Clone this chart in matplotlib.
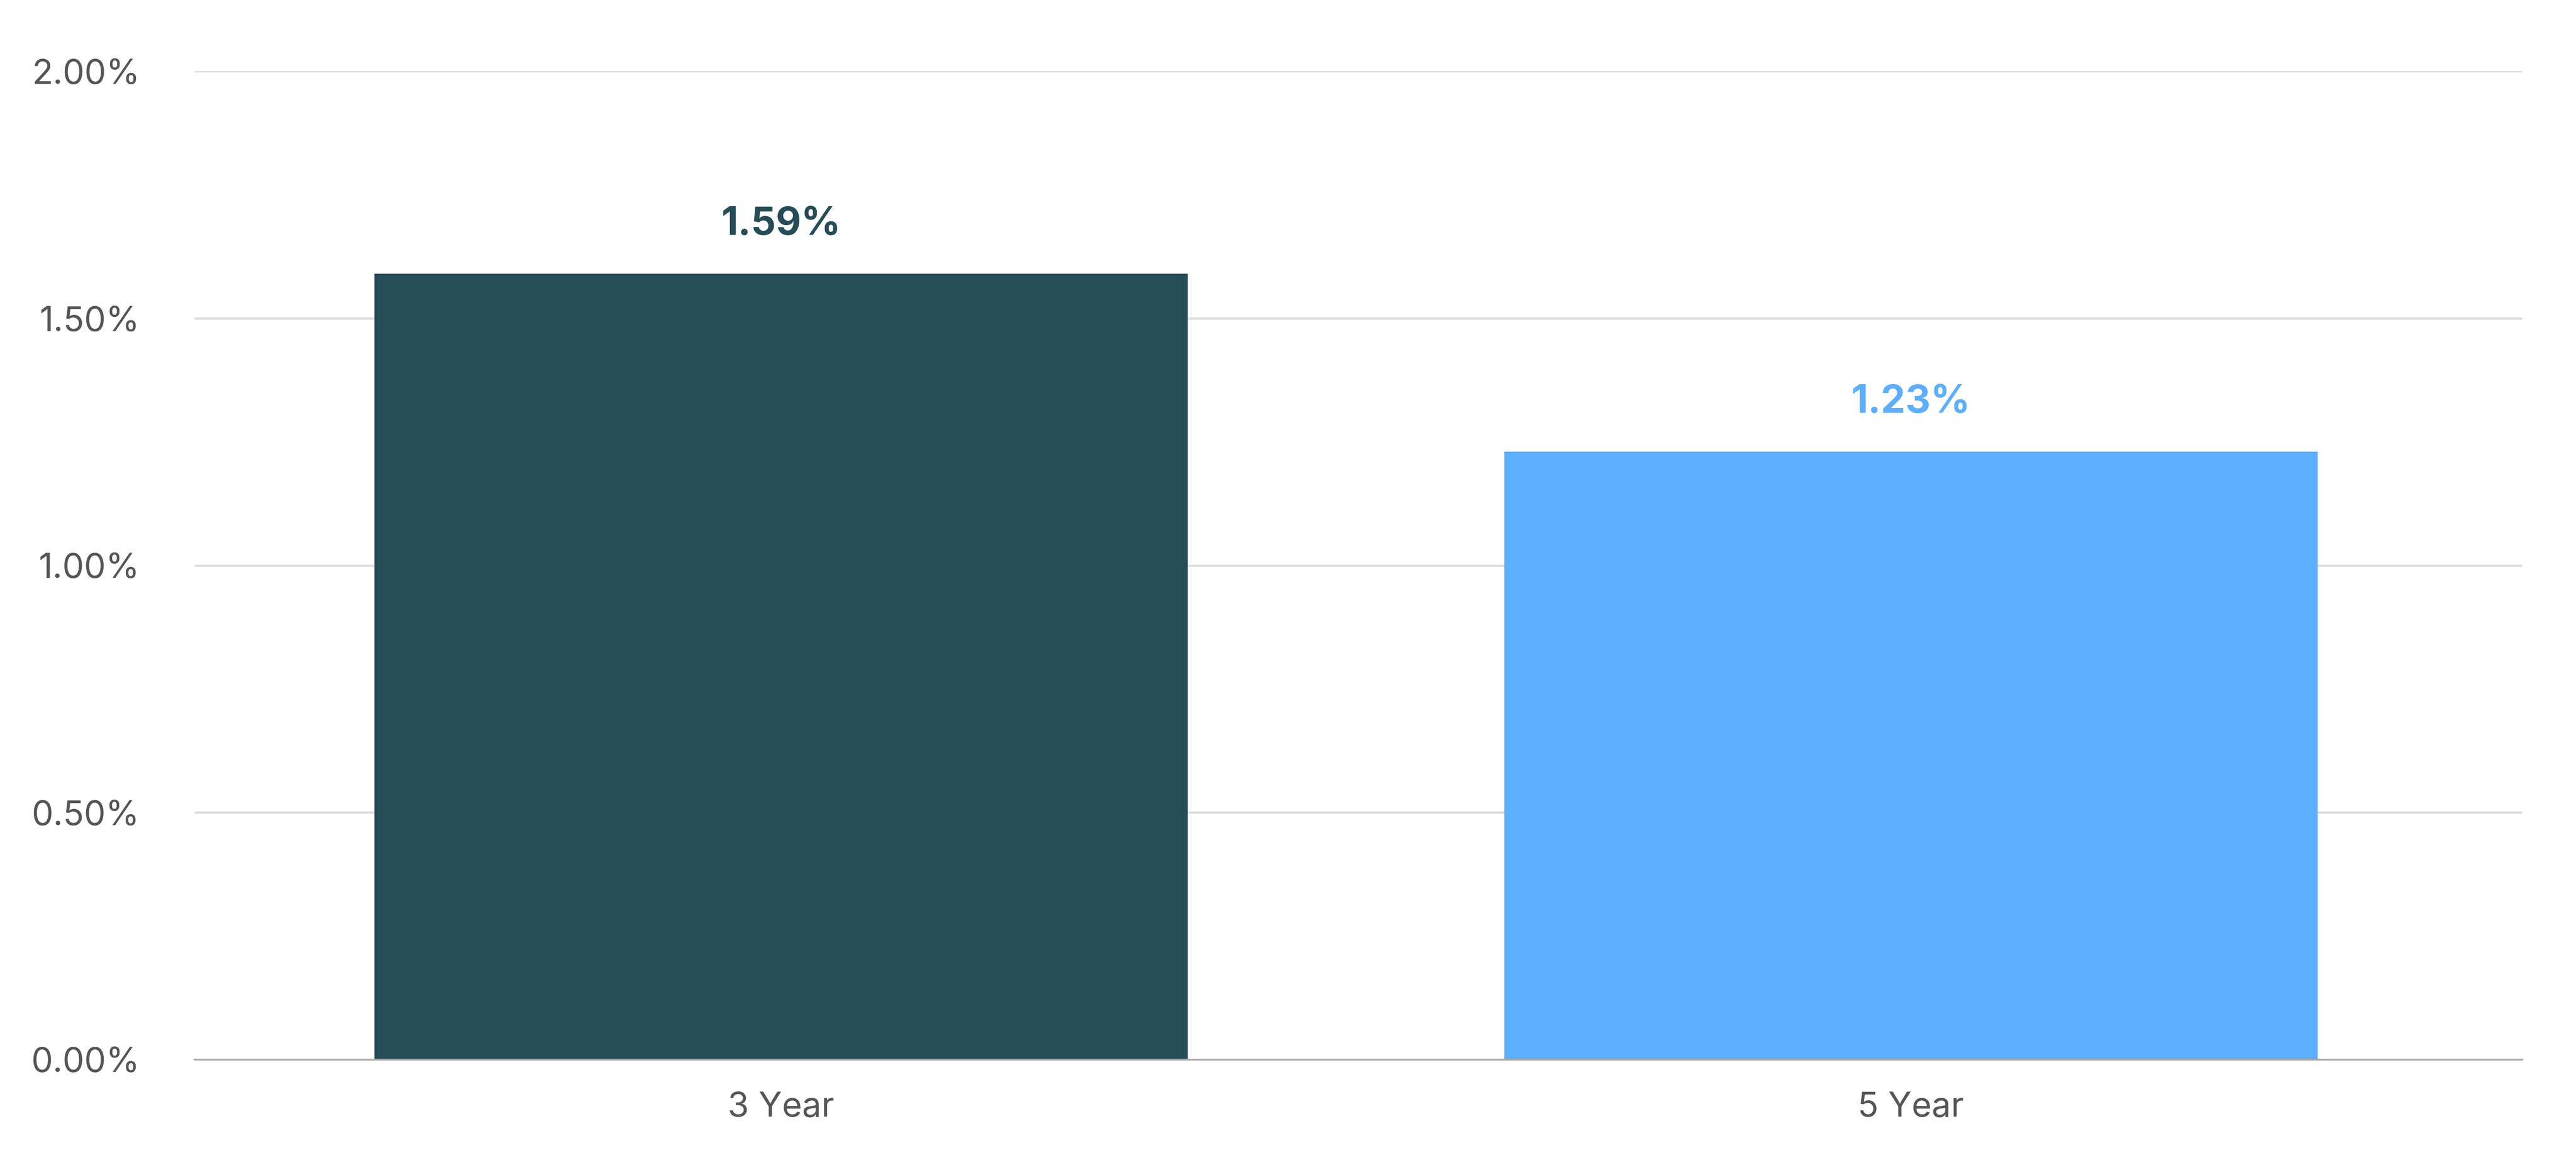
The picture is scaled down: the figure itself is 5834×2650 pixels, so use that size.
import matplotlib.pyplot as plt
from matplotlib.ticker import FuncFormatter

categories = ['3 Year', '5 Year']
values = [1.59, 1.23]
colors = ['#264d57', '#5daefc']
yticks = [0.0, 0.5, 1.0, 1.5, 2.0]

plt.rcParams['font.family'] = ['Inter', 'DejaVu Sans']

fig = plt.figure(figsize=(15.6, 7.086), dpi=374)
ax = fig.add_axes([0.0756, 0.0945, 0.9034, 0.8445])

x = range(len(categories))
ax.bar(x, values, width=0.72, color=colors, zorder=2)
for xi, v, c in zip(x, values, colors):
    ax.text(xi, v + 0.1, f'{v:.2f}%', ha='center', va='center',
            fontsize=17, fontweight='bold', color=c)

ax.set_xlim(-0.519, 1.541)
ax.set_ylim(0, 2.0)
ax.set_yticks(yticks)
ax.yaxis.set_major_formatter(FuncFormatter(lambda v, p: f'{v:.2f}%'))
ax.set_xticks(list(x))
ax.set_xticklabels(categories)
ax.tick_params(axis='both', length=0, labelsize=15, labelcolor='#555555')
ax.tick_params(axis='y', pad=24)
ax.tick_params(axis='x', pad=14)
ax.grid(axis='y', color='#dddddd', linewidth=1, zorder=0)
for s in ['top', 'right', 'left']:
    ax.spines[s].set_visible(False)
ax.spines['bottom'].set_color('#aaaaaa')

fig.savefig('out.png', dpi=374, facecolor='white')
